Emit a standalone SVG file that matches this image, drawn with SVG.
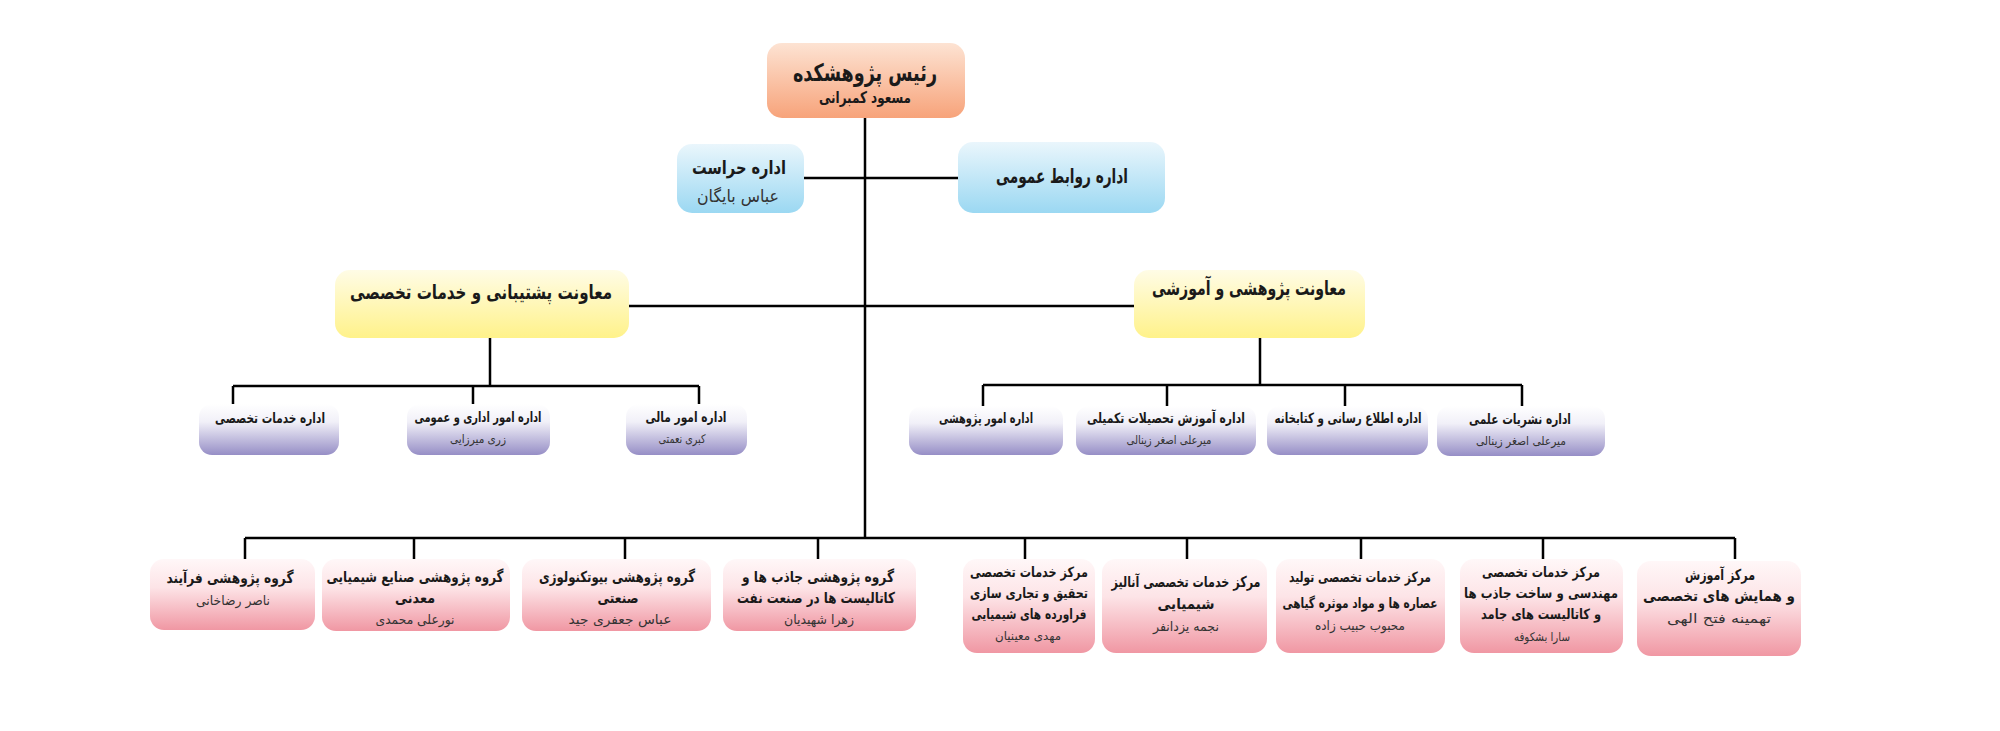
<svg xmlns="http://www.w3.org/2000/svg" width="2000" height="731" viewBox="0 0 2000 731">
<defs>
<linearGradient id="gOrange" x1="0" y1="0" x2="0" y2="1"><stop offset="0" stop-color="#fde3d3"/><stop offset="1" stop-color="#f7a37a"/></linearGradient>
<linearGradient id="gBlue" x1="0" y1="0" x2="0" y2="1"><stop offset="0" stop-color="#eaf6fc"/><stop offset="1" stop-color="#9bd8f2"/></linearGradient>
<linearGradient id="gYellow" x1="0" y1="0" x2="0" y2="1"><stop offset="0" stop-color="#fffce6"/><stop offset="1" stop-color="#fff28a"/></linearGradient>
<linearGradient id="gPurple" x1="0" y1="0" x2="0" y2="1"><stop offset="0" stop-color="#ffffff"/><stop offset="0.35" stop-color="#f1f0f8"/><stop offset="1" stop-color="#968ec6"/></linearGradient>
<linearGradient id="gPink" x1="0" y1="0" x2="0" y2="1"><stop offset="0" stop-color="#fff7f8"/><stop offset="0.4" stop-color="#fde4e7"/><stop offset="1" stop-color="#f097a3"/></linearGradient>
</defs>
<style>
text{font-family:'DejaVu Sans',sans-serif;text-anchor:middle}
.t{font-weight:bold;fill:#1a1a1a;font-size:15px}
.n{fill:#333;font-size:13px}
.orange{fill:url(#gOrange)}
.blue{fill:url(#gBlue)}
.yellow{fill:url(#gYellow)}
.purple{fill:url(#gPurple)}
.pink{fill:url(#gPink)}
.conn{stroke:#000;stroke-width:2.5;fill:none}
</style>
<rect width="2000" height="731" fill="#fff"/>
<g id="connectors" class="conn">
<path d="M865 118V538"/>
<path d="M804 178H958"/>
<path d="M629 306H1134"/>
<path d="M490 338V386M233 386H699M233 386V404M473 386V404M699 386V404"/>
<path d="M1260 338V385M983 385H1522M983 385V406M1167 385V406M1345 385V406M1522 385V406"/>
<path d="M245 538H1735M245 538V559M414 538V559M625 538V559M818 538V559M1025 538V559M1187 538V559M1361 538V559M1543 538V559M1735 538V559"/>
</g>
<g id="n-head"><rect class="orange" x="767" y="43" width="198" height="75" rx="15"/><text class="t" x="865" y="81" style="font-size:24px" textLength="144" lengthAdjust="spacingAndGlyphs">رئیس پژوهشکده</text><text class="t" x="865" y="103" style="font-size:16px" textLength="92" lengthAdjust="spacingAndGlyphs">مسعود کمبرانی</text></g>
<g id="n-herasat"><rect class="blue" x="677" y="144" width="127" height="69" rx="15"/><text class="t" x="739" y="174" style="font-size:19px" textLength="94" lengthAdjust="spacingAndGlyphs">اداره حراست</text><text class="n" x="738" y="202" style="font-size:17px" textLength="82" lengthAdjust="spacingAndGlyphs">عباس بایگان</text></g>
<g id="n-pr"><rect class="blue" x="958" y="142" width="207" height="71" rx="15"/><text class="t" x="1062" y="183" style="font-size:20px" textLength="132" lengthAdjust="spacingAndGlyphs">اداره روابط عمومی</text></g>
<g id="n-support"><rect class="yellow" x="335" y="270" width="294" height="68" rx="15"/><text class="t" x="481" y="299" style="font-size:20px" textLength="262" lengthAdjust="spacingAndGlyphs">معاونت پشتیبانی و خدمات تخصصی</text></g>
<g id="n-research"><rect class="yellow" x="1134" y="270" width="231" height="68" rx="15"/><text class="t" x="1249" y="295" style="font-size:20px" textLength="194" lengthAdjust="spacingAndGlyphs">معاونت پژوهشی و آموزشی</text></g>
<g id="n-p1"><rect class="purple" x="199" y="404" width="140" height="51" rx="13"/><text class="t" x="270" y="423" style="font-size:14px" textLength="110" lengthAdjust="spacingAndGlyphs">اداره خدمات تخصصی</text></g>
<g id="n-p2"><rect class="purple" x="407" y="404" width="143" height="51" rx="13"/><text class="t" x="478" y="422" style="font-size:14px" textLength="127" lengthAdjust="spacingAndGlyphs">اداره امور اداری و عمومی</text><text class="n" x="478" y="443" style="font-size:12px" textLength="56" lengthAdjust="spacingAndGlyphs">زری میرزایی</text></g>
<g id="n-p3"><rect class="purple" x="626" y="404" width="121" height="51" rx="13"/><text class="t" x="686" y="422" style="font-size:14px" textLength="81" lengthAdjust="spacingAndGlyphs">اداره امور مالی</text><text class="n" x="682" y="443" style="font-size:12px" textLength="47" lengthAdjust="spacingAndGlyphs">کبری نعمتی</text></g>
<g id="n-p4"><rect class="purple" x="909" y="406" width="154" height="49" rx="13"/><text class="t" x="986" y="423" style="font-size:14px" textLength="94" lengthAdjust="spacingAndGlyphs">اداره امور پژوهشی</text></g>
<g id="n-p5"><rect class="purple" x="1076" y="406" width="180" height="49" rx="13"/><text class="t" x="1166" y="423" style="font-size:14px" textLength="158" lengthAdjust="spacingAndGlyphs">اداره آموزش تحصیلات تکمیلی</text><text class="n" x="1169" y="444" style="font-size:12px" textLength="85" lengthAdjust="spacingAndGlyphs">میرعلی اصغر زینالی</text></g>
<g id="n-p6"><rect class="purple" x="1267" y="406" width="161" height="49" rx="13"/><text class="t" x="1348" y="423" style="font-size:14px" textLength="147" lengthAdjust="spacingAndGlyphs">اداره اطلاع رسانی و کتابخانه</text></g>
<g id="n-p7"><rect class="purple" x="1437" y="406" width="168" height="50" rx="13"/><text class="t" x="1520" y="424" style="font-size:14px" textLength="102" lengthAdjust="spacingAndGlyphs">اداره نشریات علمی</text><text class="n" x="1521" y="445" style="font-size:12px" textLength="90" lengthAdjust="spacingAndGlyphs">میرعلی اصغر زینالی</text></g>
<g id="n-g1"><rect class="pink" x="150" y="559" width="165" height="71" rx="14"/><text class="t" x="230" y="583" textLength="127" lengthAdjust="spacingAndGlyphs">گروه پژوهشی فرآیند</text><text class="n" x="233" y="605" textLength="74" lengthAdjust="spacingAndGlyphs">ناصر رضاخانی</text></g>
<g id="n-g2"><rect class="pink" x="322" y="559" width="188" height="72" rx="14"/><text class="t" x="415" y="582" textLength="177" lengthAdjust="spacingAndGlyphs">گروه پژوهشی صنایع شیمیایی</text><text class="t" x="415" y="603" textLength="40" lengthAdjust="spacingAndGlyphs">معدنی</text><text class="n" x="415" y="624" textLength="79" lengthAdjust="spacingAndGlyphs">نورعلی محمدی</text></g>
<g id="n-g3"><rect class="pink" x="522" y="559" width="189" height="72" rx="14"/><text class="t" x="617" y="582" textLength="156" lengthAdjust="spacingAndGlyphs">گروه پژوهشی بیوتکنولوژی</text><text class="t" x="618" y="603" textLength="41" lengthAdjust="spacingAndGlyphs">صنعتی</text><text class="n" x="620" y="624" textLength="103" lengthAdjust="spacingAndGlyphs">عباس جعفری جید</text></g>
<g id="n-g4"><rect class="pink" x="723" y="559" width="193" height="72" rx="14"/><text class="t" x="818" y="582" textLength="152" lengthAdjust="spacingAndGlyphs">گروه پژوهشی جاذب ها و</text><text class="t" x="816" y="603" textLength="158" lengthAdjust="spacingAndGlyphs">کاتالیست ها در صنعت نفت</text><text class="n" x="819" y="624" textLength="70" lengthAdjust="spacingAndGlyphs">زهرا شهیدیان</text></g>
<g id="n-c1"><rect class="pink" x="963" y="559" width="132" height="94" rx="14"/><text class="t" x="1029" y="577" style="font-size:14px" textLength="118" lengthAdjust="spacingAndGlyphs">مرکز خدمات تخصصی</text><text class="t" x="1029" y="598" style="font-size:14px" textLength="118" lengthAdjust="spacingAndGlyphs">تحقیق و تجاری سازی</text><text class="t" x="1029" y="619" style="font-size:14px" textLength="115" lengthAdjust="spacingAndGlyphs">فراورده های شیمیایی</text><text class="n" x="1028" y="640" style="font-size:12px" textLength="66" lengthAdjust="spacingAndGlyphs">مهدی معینیان</text></g>
<g id="n-c2"><rect class="pink" x="1102" y="559" width="165" height="94" rx="14"/><text class="t" x="1186" y="587" textLength="149" lengthAdjust="spacingAndGlyphs">مرکز خدمات تخصصی آنالیز</text><text class="t" x="1186" y="609" textLength="57" lengthAdjust="spacingAndGlyphs">شیمیایی</text><text class="n" x="1186" y="631" textLength="66" lengthAdjust="spacingAndGlyphs">نجمه یزدانفر</text></g>
<g id="n-c3"><rect class="pink" x="1276" y="559" width="169" height="94" rx="14"/><text class="t" x="1360" y="582" style="font-size:14px" textLength="142" lengthAdjust="spacingAndGlyphs">مرکز خدمات تخصصی تولید</text><text class="t" x="1360" y="608" style="font-size:14px" textLength="155" lengthAdjust="spacingAndGlyphs">عصاره ها و مواد موثره گیاهی</text><text class="n" x="1360" y="630" textLength="90" lengthAdjust="spacingAndGlyphs">محبوب حبیب زاده</text></g>
<g id="n-c4"><rect class="pink" x="1460" y="559" width="163" height="94" rx="14"/><text class="t" x="1541" y="577" style="font-size:14px" textLength="118" lengthAdjust="spacingAndGlyphs">مرکز خدمات تخصصی</text><text class="t" x="1541" y="598" style="font-size:14px" textLength="154" lengthAdjust="spacingAndGlyphs">مهندسی و ساخت جاذب ها</text><text class="t" x="1541" y="619" style="font-size:14px" textLength="120" lengthAdjust="spacingAndGlyphs">و کاتالیست های جامد</text><text class="n" x="1542" y="641" style="font-size:12px" textLength="56" lengthAdjust="spacingAndGlyphs">سارا بشکوفه</text></g>
<g id="n-c5"><rect class="pink" x="1637" y="561" width="164" height="95" rx="14"/><text class="t" x="1720" y="580" textLength="70" lengthAdjust="spacingAndGlyphs">مرکز آموزش</text><text class="t" x="1719" y="601" textLength="152" lengthAdjust="spacingAndGlyphs">و همایش های تخصصی</text><text class="n" x="1719" y="623" textLength="104" lengthAdjust="spacingAndGlyphs">تهمینه فتح الهی</text></g>
</svg>
